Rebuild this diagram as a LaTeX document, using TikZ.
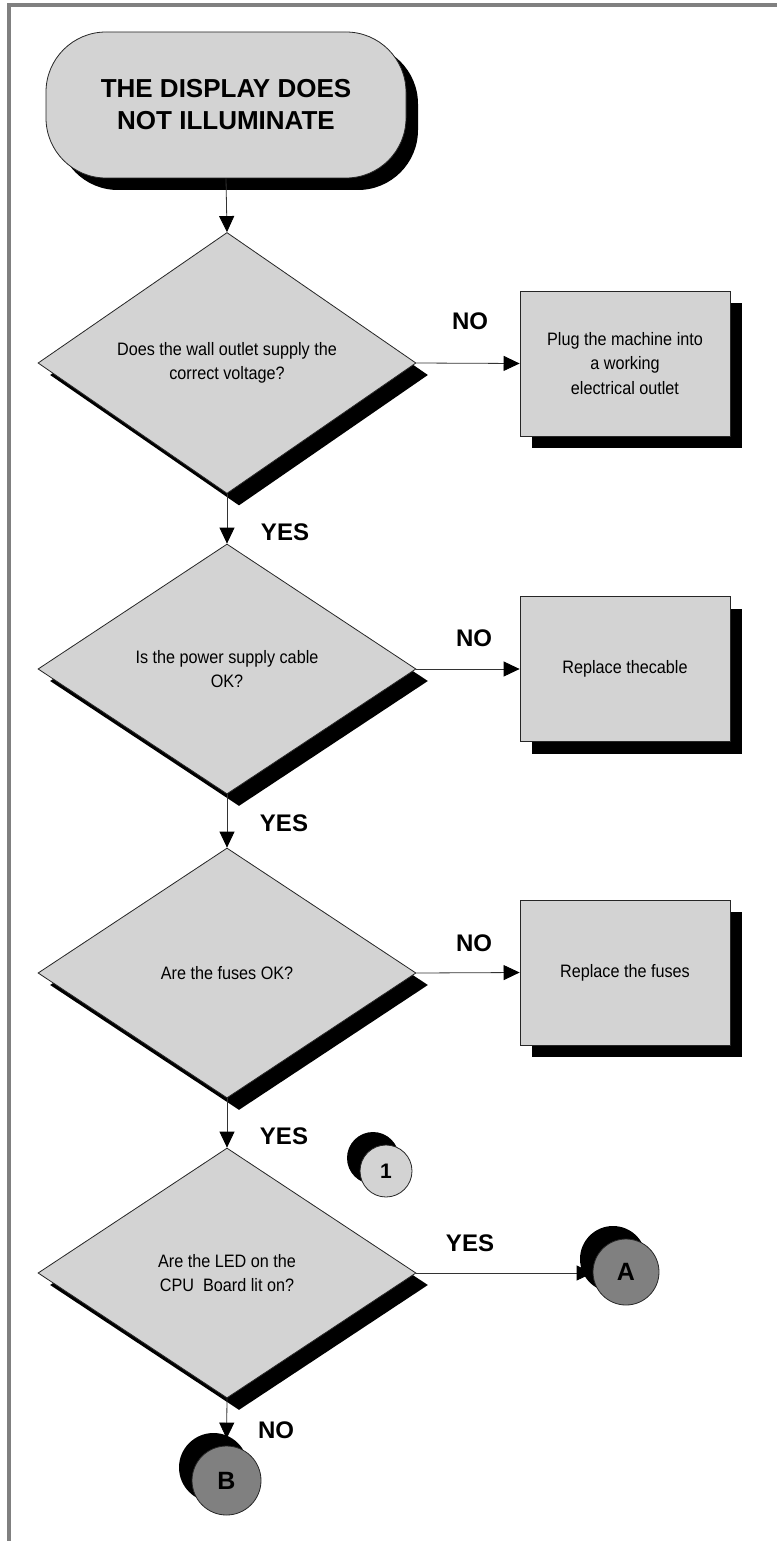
\documentclass[tikz,border=0pt]{standalone}
\usepackage{fontspec}
\setmainfont{Liberation Sans}
\newfontfamily\narrowfont{Liberation Sans}[FakeStretch=0.9]
\usetikzlibrary{shapes.geometric,shadows,arrows.meta}
\definecolor{lgray}{RGB}{211,211,211}
\definecolor{dgray}{RGB}{128,128,128}
\definecolor{framegray}{RGB}{128,128,128}
\begin{document}
\begin{tikzpicture}[x=1pt,y=-1pt,
  outline/.style={draw=black!85, line width=0.8pt},
  shadowdr/.style={drop shadow={shadow xshift=12pt, shadow yshift=-12pt, fill=black, opacity=1}},
  shadowul/.style={drop shadow={shadow xshift=-13pt, shadow yshift=13pt, fill=black, opacity=1}},
  bodytext/.style={font=\narrowfont\fontsize{18}{24.5}\selectfont, align=center},
  terminal/.style={rectangle, rounded corners=60pt, outline, fill=lgray, shadowdr,
    minimum width=360pt, minimum height=146pt, inner sep=0pt, align=center,
    font=\bfseries\fontsize{26}{32}\selectfont},
  decision/.style={diamond, outline, fill=lgray, shadowdr, minimum width=378pt,
    minimum height=250pt, inner sep=0pt, bodytext},
  action/.style={rectangle, outline, fill=lgray, shadowdr, minimum width=210pt,
    minimum height=145pt, inner sep=0pt, bodytext},
  connector/.style={circle, outline, shadowul, inner sep=0pt, font=\bfseries},
  flow/.style={draw=black!80, line width=0.8pt, -{Triangle[length=16pt,width=15pt,color=black]}},
  lbl/.style={font=\bfseries\fontsize{24}{28}\selectfont, inner sep=0pt}
]
\useasboundingbox (0,0) rectangle (777,1541);
% frame
\fill[framegray] (7,3) rectangle (777,7);
\fill[framegray] (7,3) rectangle (11,1541);

% nodes
\node[terminal] (start) at (226,105) {THE DISPLAY DOES\\NOT ILLUMINATE};

\node[decision] (d1) at (227,363) {Does the wall outlet supply the\\correct voltage?};
\node[action] (b1) at (625,363.5) {Plug the machine into\\a working\\electrical outlet};

\node[decision] (d2) at (227,669) {Is the power supply cable\\OK?};
\node[action] (b2) at (625,669) {Replace thecable};

\node[decision] (d3) at (227,973) {Are the fuses OK?};
\node[action] (b3) at (625,972.5) {Replace the fuses};

\node[decision] (d4) at (227,1273) {Are the LED on the\\CPU~~Board lit on?};

\node[connector, fill=lgray, minimum size=52pt, font=\bfseries\fontsize{21}{24}\selectfont] (c1) at (386,1171) {1};
\node[connector, fill=dgray, minimum size=66pt, font=\bfseries\fontsize{25}{28}\selectfont] (A) at (626,1272) {A};
\node[connector, fill=dgray, minimum size=69pt, font=\bfseries\fontsize{25}{28}\selectfont] (B) at (226.5,1480.5) {B};

% labels
\node[lbl] (no1) at (470,321) {NO};
\node[lbl] (yes1) at (285,532) {YES};
\node[lbl] (no2) at (474,638) {NO};
\node[lbl] (yes2) at (284,823) {YES};
\node[lbl] (no3) at (474,943) {NO};
\node[lbl] (yes3) at (284,1136) {YES};
\node[lbl] (yes4) at (470,1243) {YES};
\node[lbl] (no4) at (276,1430) {NO};

% connectors
\draw[flow] (start.south) -- (d1.north);
\draw[flow] (d1.east) -- (b1.west);
\draw[flow] (d1.south) -- (d2.north);
\draw[flow] (d2.east) -- (b2.west);
\draw[flow] (d2.south) -- (d3.north);
\draw[flow] (d3.east) -- (b3.west);
\draw[flow] (d3.south) -- (d4.north);
\draw[flow] (d4.east) -- (d4.east -| A.west);
\draw[flow, shorten >=7pt] (d4.south) -- (B.north);
\end{tikzpicture}
\end{document}
